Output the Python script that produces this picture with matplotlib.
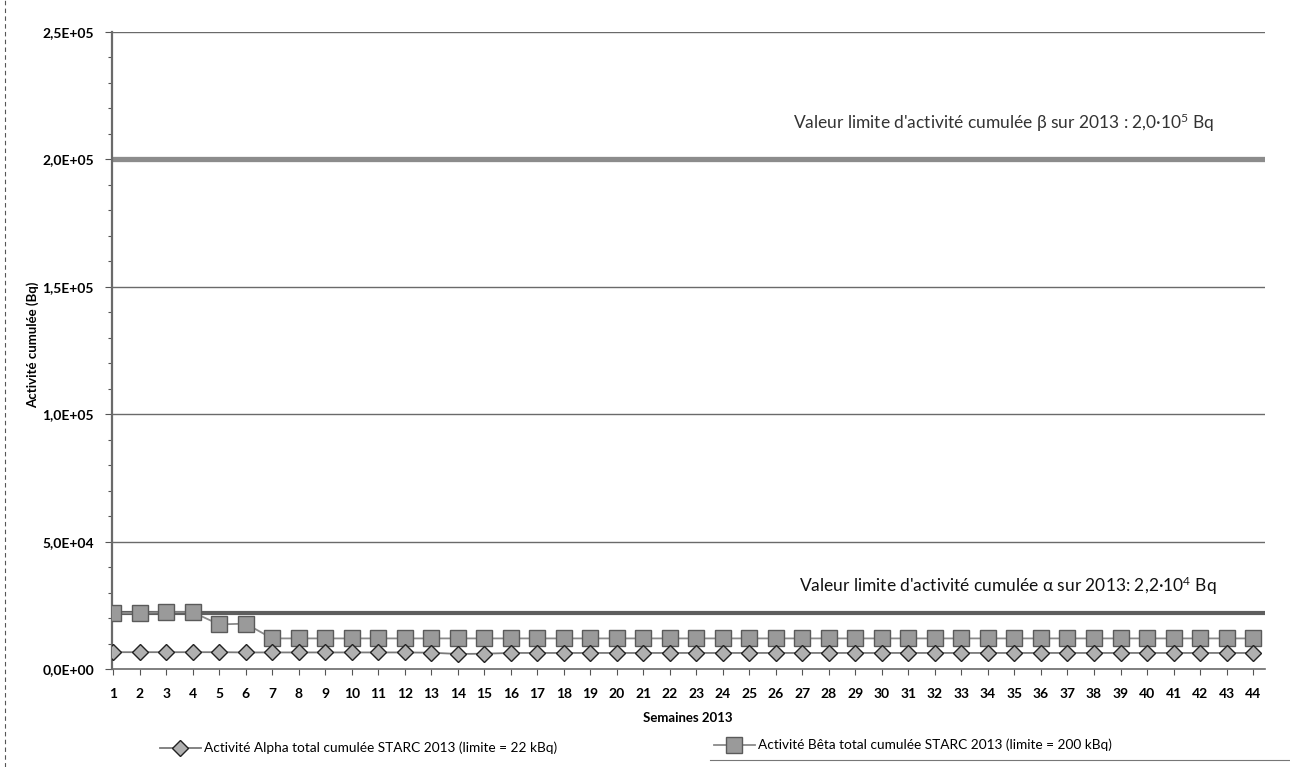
import matplotlib
matplotlib.use("Agg")
import matplotlib.pyplot as plt
from matplotlib.ticker import FuncFormatter, MultipleLocator
from matplotlib.lines import Line2D

# ---- data ----
weeks = list(range(1, 45))
alpha_cum = [6600, 6600, 6600, 6600, 6600, 6500, 6500, 6500, 6500, 6500,
             6500, 6500, 6400, 5900, 6000, 6300, 6300, 6300, 6300, 6300,
             6300, 6300, 6300, 6300, 6300, 6300, 6300, 6300, 6300, 6300,
             6300, 6300, 6300, 6300, 6300, 6300, 6300, 6300, 6300, 6300,
             6300, 6300, 6300, 6300]
beta_cum = [22000, 22000, 22300, 22300, 17500, 17800, 12000, 12000, 12000, 12000,
            12000, 12000, 12000, 12000, 12000, 12000, 12000, 12000, 12000, 12000,
            12000, 12000, 12000, 12000, 12000, 12000, 12000, 12000, 12000, 12000,
            12000, 12000, 12000, 12000, 12000, 12000, 12000, 12000, 12000, 12000,
            12000, 12000, 12000, 12000]
alpha_limit = 22000
beta_limit = 200000
y_ticks = [0, 50000, 100000, 150000, 200000, 250000]

plt.rcParams['font.family'] = ['Lato', 'DejaVu Sans']
plt.rcParams['mathtext.fontset'] = 'custom'
plt.rcParams['mathtext.rm'] = 'Lato'
plt.rcParams['mathtext.default'] = 'regular'

fig = plt.figure(figsize=(12.9, 7.67), dpi=100)
ax = fig.add_axes([112/1290, 1-669/767, 1153/1290, 637/767])

# grid lines
for yv in y_ticks[1:]:
    ax.axhline(yv, color='#6a6a6a', lw=1.0, zorder=1)

# limit lines
ax.axhline(beta_limit, color='#8c8c8c', lw=3.8, zorder=2)
ax.axhline(alpha_limit, color='#5e5e5e', lw=3.0, zorder=2)

la, = ax.plot(weeks, alpha_cum, color='#7a7a7a', lw=1.3, marker='D', ms=8,
              mfc='#b0b0b0', mec='#222222', mew=1.0, zorder=4,
              label='Activité Alpha total cumulée STARC 2013 (limite = 22 kBq)')
lb, = ax.plot(weeks, beta_cum, color='#8a8a8a', lw=1.3, marker='s', ms=11,
              mfc='#9a9a9a', mec='#5a5a5a', mew=1.0, zorder=3,
              label='Activité Bêta total cumulée STARC 2013 (limite = 200 kBq)')

ax.set_xlim(0.96, 44.45)
ax.set_ylim(0, 250000)
ax.set_xticks(weeks)
ax.set_yticks(y_ticks)
ax.yaxis.set_minor_locator(MultipleLocator(10000))
ax.yaxis.set_major_formatter(FuncFormatter(
    lambda v, p: ('%.1E' % v).replace('.', ',')))

for lab in ax.get_xticklabels() + ax.get_yticklabels():
    lab.set_fontweight('bold')
    lab.set_fontsize(10)
ax.tick_params(axis='x', length=4, width=0.8, color='#555555', pad=10)
ax.tick_params(axis='y', which='major', length=5, width=0.8, color='#555555', pad=8)
ax.tick_params(axis='y', which='minor', length=3, width=0.8, color='#555555')

for s in ['top', 'right']:
    ax.spines[s].set_visible(False)
ax.spines['left'].set_color('#6a6a6a')
ax.spines['left'].set_linewidth(1.6)
ax.spines['bottom'].set_color('#6a6a6a')
ax.spines['bottom'].set_linewidth(1.2)

fig.text(688/1290, 1-718/767, 'Semaines 2013', ha='center', va='center',
         fontsize=9.5, fontweight='bold')
fig.text(33/1290, 1-345/767, 'Activité cumulée (Bq)', ha='center', va='center',
         rotation=90, fontsize=9.5, fontweight='bold')

ax.text(0.591, 0.858, "Valeur limite d'activité cumulée β sur 2013 : 2,0·10$^{5}$ Bq",
        transform=ax.transAxes, fontsize=12.5, color='#333333', va='center', ha='left')
ax.text(0.596, 0.13, "Valeur limite d'activité cumulée α sur 2013: 2,2·10$^{4}$ Bq",
        transform=ax.transAxes, fontsize=12.5, color='#111111', va='center', ha='left')

fig.legend(handles=[la], loc='center left', bbox_to_anchor=(160/1290, 1-748/767),
           frameon=False, fontsize=9.8, handlelength=3.0, handletextpad=0.2,
           borderaxespad=0, borderpad=0)
fig.legend(handles=[lb], loc='center left', bbox_to_anchor=(714/1290, 1-745/767),
           frameon=False, fontsize=9.8, handlelength=3.0, handletextpad=0.2,
           borderaxespad=0, borderpad=0)

# scan border artifacts
fig.add_artist(Line2D([5/1290, 5/1290], [0, 1], transform=fig.transFigure,
                      color='#555555', lw=0.8, ls=(0, (4, 3))))
fig.add_artist(Line2D([710/1290, 1], [1-760/767, 1-760/767], transform=fig.transFigure,
                      color='#777777', lw=0.8))

fig.savefig('out.png', dpi=100)
